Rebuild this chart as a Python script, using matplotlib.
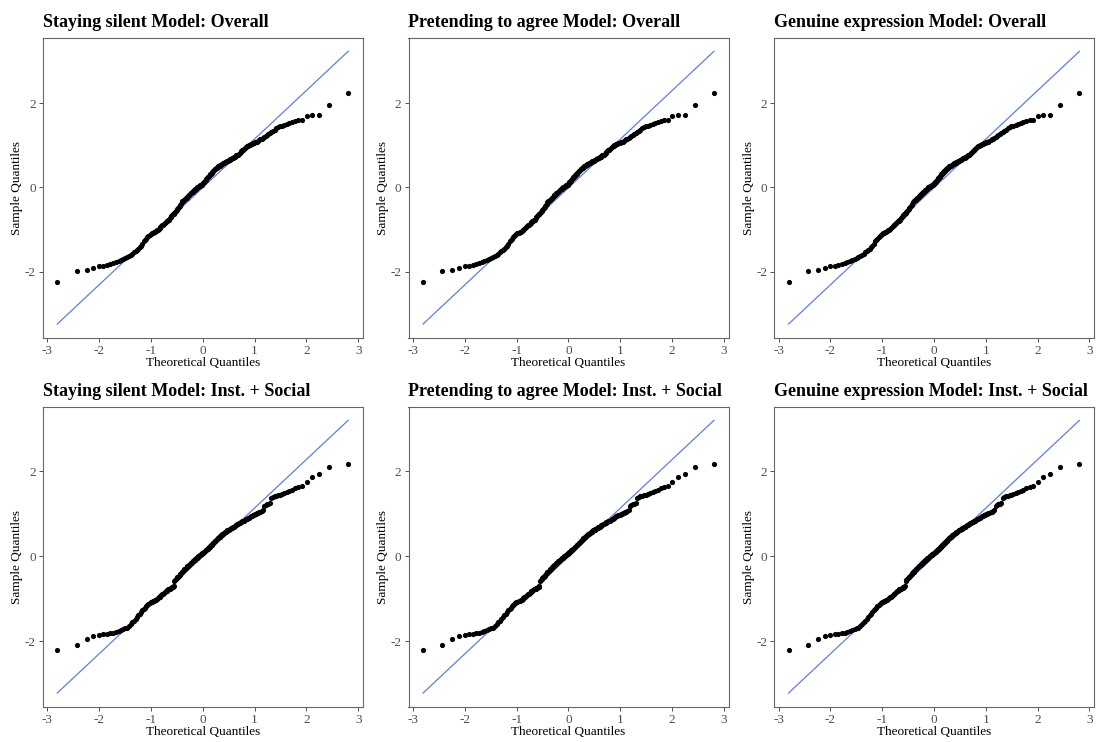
import matplotlib
matplotlib.use("Agg")
import matplotlib.pyplot as plt
import numpy as np
from statistics import NormalDist

plt.rcParams['font.family'] = ['Liberation Serif', 'DejaVu Serif']
plt.rcParams['axes.unicode_minus'] = False

# sorted standardized residuals (n = 200)
resid_overall = [
    -2.25, -1.98, -1.95, -1.90, -1.87, -1.86, -1.84, -1.82, -1.79, -1.76,
    -1.74, -1.72, -1.70, -1.68, -1.66, -1.63, -1.60, -1.57, -1.54, -1.51,
    -1.48, -1.45, -1.41, -1.38, -1.33, -1.28, -1.25, -1.22, -1.17, -1.14,
    -1.12, -1.10, -1.09, -1.07, -1.06, -1.05, -1.04, -1.02, -1.00, -0.98,
    -0.96, -0.94, -0.92, -0.90, -0.88, -0.86, -0.84, -0.82, -0.80, -0.79,
    -0.78, -0.76, -0.73, -0.70, -0.68, -0.66, -0.64, -0.62, -0.60, -0.58,
    -0.56, -0.54, -0.51, -0.48, -0.46, -0.44, -0.42, -0.38, -0.35, -0.33,
    -0.31, -0.30, -0.29, -0.27, -0.26, -0.24, -0.22, -0.21, -0.19, -0.17,
    -0.15, -0.14, -0.12, -0.11, -0.10, -0.08, -0.07, -0.05, -0.04, -0.03,
    -0.02, 0.00, 0.01, 0.02, 0.03, 0.04, 0.05, 0.06, 0.07, 0.08,
    0.10, 0.12, 0.14, 0.16, 0.18, 0.20, 0.22, 0.24, 0.25, 0.27,
    0.29, 0.31, 0.33, 0.35, 0.37, 0.39, 0.40, 0.42, 0.43, 0.45,
    0.46, 0.47, 0.49, 0.50, 0.51, 0.52, 0.53, 0.54, 0.55, 0.56,
    0.57, 0.58, 0.59, 0.60, 0.61, 0.62, 0.63, 0.64, 0.65, 0.66,
    0.67, 0.68, 0.69, 0.70, 0.71, 0.72, 0.73, 0.74, 0.76, 0.77,
    0.78, 0.80, 0.82, 0.84, 0.86, 0.88, 0.90, 0.92, 0.94, 0.96,
    0.98, 0.99, 1.00, 1.01, 1.03, 1.04, 1.05, 1.06, 1.07, 1.08,
    1.09, 1.10, 1.12, 1.14, 1.16, 1.18, 1.20, 1.22, 1.24, 1.27,
    1.29, 1.31, 1.34, 1.37, 1.40, 1.43, 1.45, 1.47, 1.49, 1.51,
    1.54, 1.56, 1.58, 1.59, 1.61, 1.70, 1.71, 1.72, 1.95, 2.24,
]

resid_social = [
    -2.22, -2.08, -1.96, -1.87, -1.85, -1.84, -1.83, -1.82, -1.80, -1.78,
    -1.76, -1.74, -1.72, -1.70, -1.68, -1.64, -1.60, -1.56, -1.52, -1.47,
    -1.43, -1.39, -1.35, -1.31, -1.27, -1.24, -1.21, -1.18, -1.15, -1.12,
    -1.10, -1.08, -1.07, -1.06, -1.05, -1.04, -1.03, -1.01, -0.99, -0.97,
    -0.95, -0.93, -0.91, -0.89, -0.88, -0.86, -0.84, -0.83, -0.81, -0.79,
    -0.78, -0.77, -0.76, -0.75, -0.74, -0.73, -0.72, -0.71, -0.58, -0.56,
    -0.54, -0.52, -0.50, -0.48, -0.46, -0.44, -0.42, -0.40, -0.38, -0.36,
    -0.34, -0.32, -0.30, -0.29, -0.27, -0.26, -0.24, -0.23, -0.21, -0.20,
    -0.18, -0.17, -0.15, -0.14, -0.12, -0.11, -0.09, -0.08, -0.07, -0.05,
    -0.04, -0.03, -0.01, 0.00, 0.01, 0.02, 0.03, 0.05, 0.06, 0.07,
    0.08, 0.10, 0.11, 0.12, 0.14, 0.15, 0.17, 0.18, 0.20, 0.21,
    0.23, 0.24, 0.26, 0.27, 0.29, 0.31, 0.32, 0.34, 0.36, 0.37,
    0.39, 0.40, 0.42, 0.44, 0.45, 0.46, 0.48, 0.49, 0.50, 0.52,
    0.53, 0.55, 0.56, 0.57, 0.58, 0.60, 0.61, 0.62, 0.63, 0.64,
    0.65, 0.66, 0.67, 0.68, 0.69, 0.70, 0.72, 0.73, 0.74, 0.76,
    0.77, 0.78, 0.79, 0.80, 0.81, 0.82, 0.83, 0.84, 0.86, 0.87,
    0.88, 0.90, 0.91, 0.93, 0.94, 0.96, 0.97, 0.98, 0.99, 1.00,
    1.01, 1.03, 1.04, 1.05, 1.06, 1.08, 1.18, 1.21, 1.23, 1.24,
    1.25, 1.37, 1.39, 1.41, 1.42, 1.44, 1.45, 1.47, 1.49, 1.51,
    1.54, 1.57, 1.60, 1.64, 1.66, 1.75, 1.86, 1.95, 2.11, 2.18,
]

strategies = ["Staying silent", "Pretending to agree", "Genuine expression"]
models = ["Overall", "Inst. + Social"]
model_resid = [resid_overall, resid_social]


def theoretical(n):
    # R ppoints() for n > 10
    nd = NormalDist()
    return np.array([nd.inv_cdf((i - 0.5) / n) for i in range(1, n + 1)])


def qq_panel(ax, sample, title):
    y = np.sort(np.array(sample))
    x = theoretical(len(y))
    # reference line through the quartiles, like stat_qq_line
    qy = np.percentile(y, [25, 75])
    qx = np.array([NormalDist().inv_cdf(0.25), NormalDist().inv_cdf(0.75)])
    slope = (qy[1] - qy[0]) / (qx[1] - qx[0])
    icpt = qy[0] - slope * qx[0]
    lx = np.array([x.min(), x.max()])
    ly = icpt + slope * lx
    ax.plot(lx, ly, color="#5a80e4", lw=0.9, zorder=2)
    ax.scatter(x, y, s=14, color="black", linewidths=0, zorder=3)

    xr = x.max() - x.min()
    ax.set_xlim(x.min() - 0.05 * xr, x.max() + 0.05 * xr)
    lo = min(y.min(), ly.min())
    hi = max(y.max(), ly.max())
    ax.set_ylim(lo - 0.05 * (hi - lo), hi + 0.05 * (hi - lo))
    ax.set_xticks([-3, -2, -1, 0, 1, 2, 3])
    ax.set_yticks([-2, 0, 2])
    ax.set_xlabel("Theoretical Quantiles", fontsize=9.5, labelpad=0)
    ax.set_ylabel("Sample Quantiles", fontsize=9.5, labelpad=1)
    ax.set_title(title, loc="left", fontsize=13.0, fontweight="bold", pad=8)
    ax.tick_params(labelsize=9.5, labelcolor="#4d4d4d", color="#333333",
                   length=3, width=0.6, pad=2)
    for sp in ax.spines.values():
        sp.set_color("#666666")
        sp.set_linewidth(0.8)


fig = plt.figure(figsize=(10.96, 7.42), dpi=100)
lefts = [42.7, 408.5, 774.0]
tops = [37.7, 406.7]
W, H = 1096.0, 742.0
for r, (model, resid) in enumerate(zip(models, model_resid)):
    for c, strat in enumerate(strategies):
        ax = fig.add_axes([lefts[c] / W, 1 - (tops[r] + 300) / H, 320 / W, 300 / H])
        qq_panel(ax, resid, f"{strat} Model: {model}")

fig.savefig("out.png", dpi=100, facecolor="white")
